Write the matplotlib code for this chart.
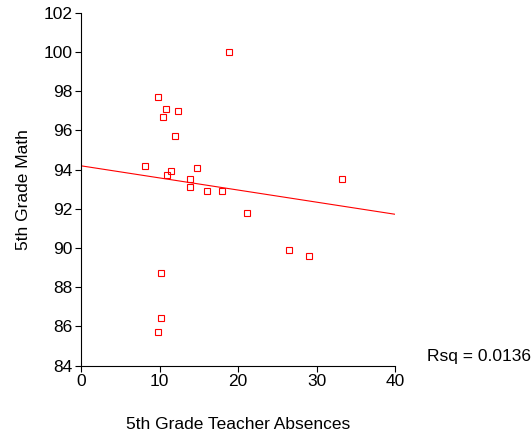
import numpy as np
import matplotlib.pyplot as plt

plt.rcParams['font.family'] = ['Liberation Sans', 'DejaVu Sans']

absences = [18.9, 9.8, 10.8, 12.3, 10.4, 12.0, 8.2, 11.5, 10.9, 14.8, 13.9,
            13.9, 16.0, 17.9, 21.1, 33.2, 26.5, 29.0, 10.2, 10.2, 9.85]
math_scores = [100.0, 97.7, 97.1, 97.0, 96.7, 95.7, 94.2, 93.9, 93.7, 94.1, 93.5,
               93.1, 92.9, 92.9, 91.8, 93.5, 89.9, 89.6, 88.7, 86.4, 85.7]
rsq_text = 'Rsq = 0.0136'

x = np.array(absences)
y = np.array(math_scores)
slope, intercept = np.polyfit(x, y, 1)

fig = plt.figure(figsize=(5.32, 4.38), dpi=100)
ax = fig.add_axes([81 / 532, 1 - 365.5 / 438, 314 / 532, 352.8 / 438])

xs = np.array([0, 40])
ax.plot(xs, intercept + slope * xs, color='red', linewidth=0.8)
ax.plot(x, y, linestyle='none', marker='s', markersize=4, markerfacecolor='none',
        markeredgecolor='red', markeredgewidth=0.8)

ax.set_xlim(0, 40)
ax.set_ylim(84, 102)
ax.set_xticks(range(0, 41, 10))
ax.set_yticks(range(84, 103, 2))
ax.tick_params(direction='out', length=4, width=0.8, labelsize=12.5, colors='black', pad=2)
ax.spines['top'].set_visible(False)
ax.spines['right'].set_visible(False)

ax.set_xlabel('5th Grade Teacher Absences', fontsize=12.5, labelpad=20)
ax.set_ylabel('5th Grade Math', fontsize=12.5, labelpad=9)
fig.text(427 / 532, 1 - 357 / 438, rsq_text, fontsize=12.5, va='center', ha='left')

plt.savefig('out.png', dpi=100)
